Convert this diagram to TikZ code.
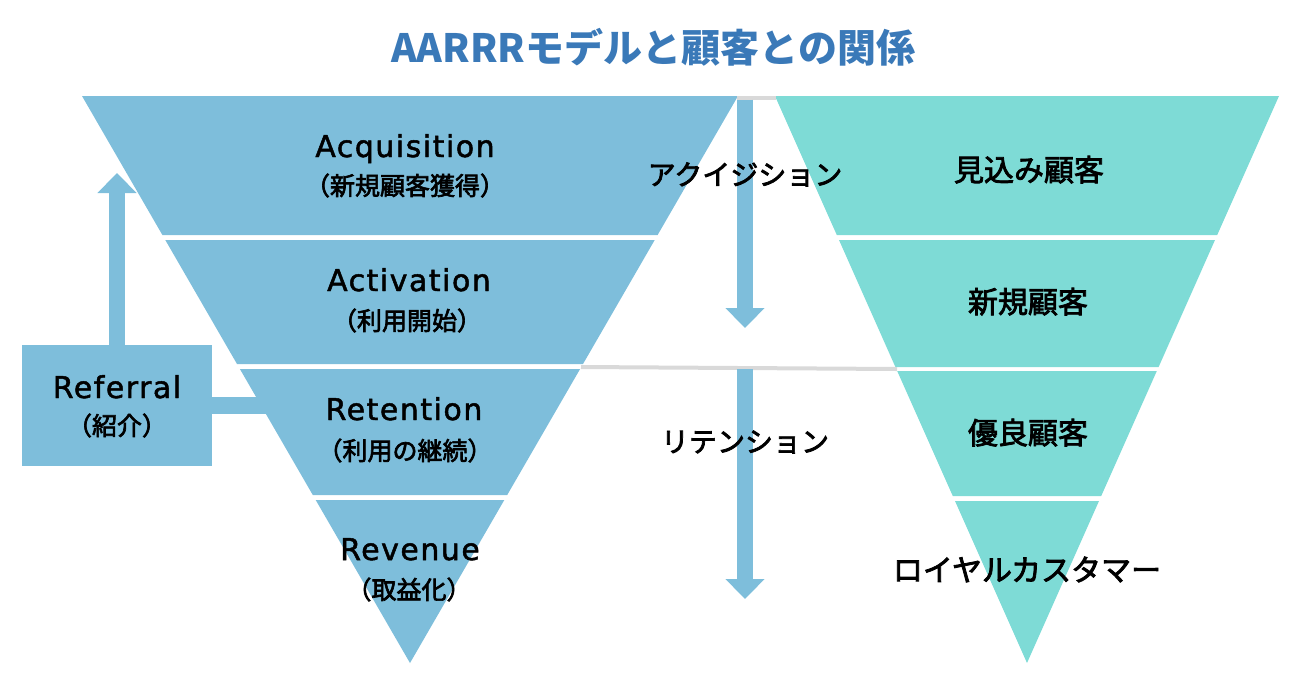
\documentclass[tikz,border=0pt]{standalone}
\usepackage{fontspec}
\setmainfont{Noto Sans CJK JP}
\newfontfamily\latinfont{DejaVu Sans}[LetterSpace=5, FakeBold=1.6]
\newfontfamily\jpfont{Noto Sans CJK JP}[FakeBold=2.6]
\usetikzlibrary{arrows.meta}

\definecolor{funnelblue}{RGB}{126,190,219}
\definecolor{funnelteal}{RGB}{126,219,214}
\definecolor{titleblue}{RGB}{58,121,184}
\definecolor{linegray}{RGB}{217,217,217}

\begin{document}
\begin{tikzpicture} [x = 1pt, y = -1pt,
        every node/.style = {inner sep = 0pt, anchor = base},
        title/.style = {font = \bfseries\fontsize{39}{45}\selectfont, text = titleblue},
        latin/.style = {font = \latinfont\fontsize{30}{36}\selectfont},
        jpsub/.style = {font = \jpfont\fontsize{25}{30}\selectfont},
        jpbig/.style = {font = \jpfont\fontsize{30}{36}\selectfont},
        kana/.style = {font = \jpfont\fontsize{28}{34}\selectfont},
        refbox/.style = {fill = funnelblue, anchor = center, minimum width = 190pt, minimum height = 121pt},
        bigarrow/.style = {draw = funnelblue, line width = 16pt, -{Triangle[width = 38pt, length = 20pt]}},
        grayline/.style = {draw = linegray, line width = 4pt}]

    \useasboundingbox (0,0) rectangle (1304,681);

    \node[title] (title) at (653,62) {AARRRモデルと顧客との関係};

    \node[refbox] (referral) at (117,405.5) {};
    \coordinate (reftip) at (117,173);
    \coordinate (refjoin) at (280,405.5);
    \draw[bigarrow] (referral.north) -- (reftip);
    \draw[draw = funnelblue, line width = 17pt] (referral.east) -- (refjoin);

    \fill[funnelblue] (82,96) -- (738,96) -- (657.6,235) -- (162.4,235) -- cycle;
    \fill[funnelblue] (165.3,240) -- (654.7,240) -- (583,364) -- (237,364) -- cycle;
    \fill[funnelblue] (239.9,369) -- (580.1,369) -- (507.2,495) -- (312.8,495) -- cycle;
    \fill[funnelblue] (315.7,500) -- (504.3,500) -- (410,663) -- cycle;

    \fill[funnelteal] (775,96) -- (1279,96) -- (1217.2,235) -- (836.8,235) -- cycle;
    \fill[funnelteal] (839,240) -- (1215,240) -- (1158.6,367) -- (895.4,367) -- cycle;
    \fill[funnelteal] (897.2,371) -- (1156.8,371) -- (1101.2,496) -- (952.8,496) -- cycle;
    \fill[funnelteal] (955,501) -- (1099,501) -- (1027,663) -- cycle;

    \coordinate (topleft) at (737,97.5);
    \coordinate (topright) at (776,97.5);
    \coordinate (midleft) at (581,367);
    \coordinate (midright) at (897,369);
    \draw[grayline] (topleft) -- (topright);
    \draw[grayline] (midleft) -- (midright);

    \coordinate (acqstart) at (745,99.5);
    \coordinate (acqtip) at (745,328);
    \coordinate (retstart) at (745,369);
    \coordinate (rettip) at (745,599);
    \draw[bigarrow] (acqstart) -- (acqtip);
    \draw[bigarrow] (retstart) -- (rettip);

    \node[latin] (reflabel) at (117,398) {Referral};
    \node[jpsub] (refjp) at (117,435) {（紹介）};

    \node[latin] (acq) at (405,157) {Acquisition};
    \node[jpsub] (acqjp) at (405,195) {（新規顧客獲得）};
    \node[latin] (act) at (409,291) {Activation};
    \node[jpsub] (actjp) at (407,330) {（利用開始）};
    \node[latin] (ret) at (404,420) {Retention};
    \node[jpsub] (retjp) at (405,460) {（利用の継続）};
    \node[latin] (rev) at (410,560) {Revenue};
    \node[jpsub] (revjp) at (409,599) {（取益化）};

    \node[kana] (acqkana) at (745,185) {アクイジション};
    \node[kana] (retkana) at (745,452) {リテンション};

    \node[jpbig] (prospect) at (1029,181) {見込み顧客};
    \node[jpbig] (newcust) at (1028,313) {新規顧客};
    \node[jpbig] (goodcust) at (1028,444) {優良顧客};
    \node[jpbig] (loyal) at (1027,581) {ロイヤルカスタマー};
\end{tikzpicture}
\end{document}
